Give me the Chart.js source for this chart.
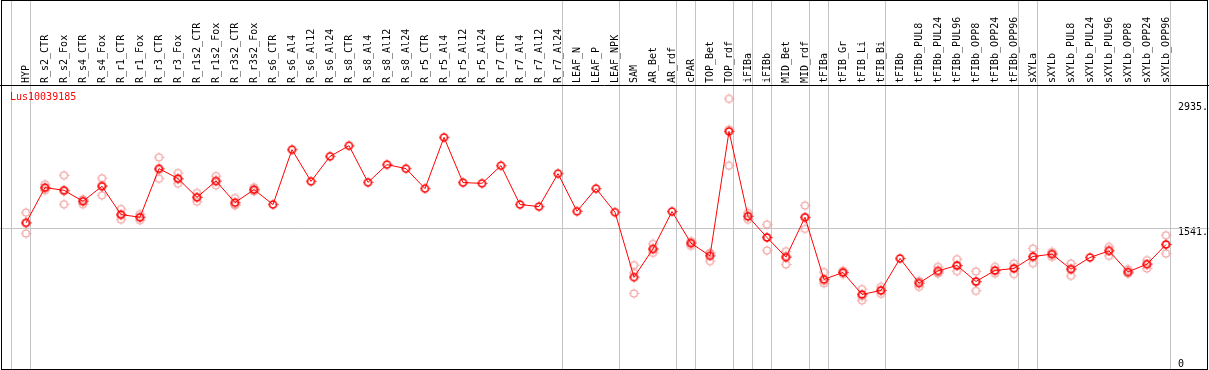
<!DOCTYPE html>
<html>
<head>
<meta charset="utf-8">
<script src="https://cdn.jsdelivr.net/npm/chart.js@4.4.1/dist/chart.umd.min.js"></script>
<style>
  html, body { margin: 0; padding: 0; background: #fff; }
  #wrap { width: 1209px; height: 370px; }
</style>
</head>
<body>
<div id="wrap"><canvas id="chart" width="1209" height="370"></canvas></div>
<script>
// sample names (x categories)
const samples = [
    'HYP', 'R_s2_CTR', 'R_s2_Fox', 'R_s4_CTR', 'R_s4_Fox', 'R_r1_CTR', 'R_r1_Fox', 'R_r3_CTR', 'R_r3_Fox',
    'R_r1s2_CTR', 'R_r1s2_Fox', 'R_r3s2_CTR', 'R_r3s2_Fox', 'R_s6_CTR', 'R_s6_Al4', 'R_s6_Al12', 'R_s6_Al24',
    'R_s8_CTR', 'R_s8_Al4', 'R_s8_Al12', 'R_s8_Al24', 'R_r5_CTR', 'R_r5_Al4', 'R_r5_Al12', 'R_r5_Al24',
    'R_r7_CTR', 'R_r7_Al4', 'R_r7_Al12', 'R_r7_Al24', 'LEAF_N', 'LEAF_P', 'LEAF_NPK', 'SAM', 'AR_Bet', 'AR_rdf',
    'cPAR', 'TOP_Bet', 'TOP_rdf', 'iFIBa', 'iFIBb', 'MID_Bet', 'MID_rdf', 'tFIBa', 'tFIB_Gr', 'tFIB_Li', 'tFIB_Bi',
    'tFIBb', 'tFIBb_PUL8', 'tFIBb_PUL24', 'tFIBb_PUL96', 'tFIBb_OPP8', 'tFIBb_OPP24', 'tFIBb_OPP96',
    'sXYLa', 'sXYLb', 'sXYLb_PUL8', 'sXYLb_PUL24', 'sXYLb_PUL96', 'sXYLb_OPP8', 'sXYLb_OPP24', 'sXYLb_OPP96'
];

// mean expression per sample
const meanValues = [
    1598, 1992, 1962, 1839, 2007, 1691, 1661, 2204, 2093,
    1884, 2066, 1825, 1970, 1803, 2416, 2062, 2341,
    2460, 2051, 2249, 2204, 1981, 2553, 2048, 2040,
    2237, 1803, 1780, 2148, 1728, 1981, 1717, 992, 1308, 1725,
    1371, 1230, 2620, 1672, 1435, 1215, 1661, 967, 1045, 799, 844,
    1201, 925, 1062, 1123, 944, 1067, 1089,
    1223, 1249, 1081, 1212, 1285, 1051, 1137, 1357
];

// replicate measurements (null = none shown)
const rep1 = [
    1713, 2029, 2129, 1862, 2096, 1753, 1695, 2330, 2155,
    1932, 2121, 1876, 1996, null, null, null, null,
    null, null, null, null, null, null, null, null,
    null, null, null, null, null, null, null, 1126, 1363, null,
    1394, 1263, 2984, 1709, 1580, 1282, 1792, 1048, 1065, 858, 884,
    null, 884, 1107, 1193, 1056, 1107, 1145,
    1312, 1274, 1145, null, 1330, 1081, 1182, 1460
];
const rep2 = [
    1479, 1962, 1806, 1806, 1906, 1635, 1628, 2092, 2037,
    1836, 2018, 1795, 1951, null, null, null, null,
    null, null, null, null, null, null, null, null,
    null, null, null, null, null, null, null, 810, 1263, null,
    1341, 1171, 2237, 1635, 1290, 1134, 1531, 922, 1026, 733, 806,
    null, 948, 1033, 1059, 839, 1033, 1026,
    1148, 1218, 1007, null, 1230, 1037, 1090, 1256
];
const rep3 = [
    1602, 1985, 1951, 1850, 2018, 1685, 1660, 2190, 2088,
    1884, 2060, 1805, 1963, null, null, null, null,
    null, null, null, null, null, null, null, null,
    null, null, null, null, null, null, null, 1040, 1298, null,
    1378, 1256, 2640, 1672, 1435, 1229, 1660, 948, 1045, 780, 843,
    null, 943, 1046, 1117, 937, 1061, 1096,
    1209, 1255, 1091, null, 1295, 1035, 1139, 1355
];

const geneId = 'Lus10039185';
const yTicks = [0, 1541, 2935];
const refLine = 1541;
// last sample index of each group (-1 = before the first)
const groupEnds = [-1, 0, 28, 31, 34, 35, 37, 38, 39, 41, 42, 45, 52, 53, 60];

const FONT = '"DejaVu Sans Mono", monospace';
const GRID = '#c4c4c4';

function makeMarker(color, lw) {
    const c = document.createElement('canvas');
    c.width = 11; c.height = 11;
    const g = c.getContext('2d');
    g.strokeStyle = color;
    g.lineWidth = lw;
    g.beginPath();
    g.arc(5.5, 5.5, 3.5, 0, Math.PI * 2);
    g.stroke();
    g.lineWidth = 1;
    g.beginPath();
    g.moveTo(5.5, 0.5); g.lineTo(5.5, 1.8);
    g.moveTo(5.5, 9.2); g.lineTo(5.5, 10.5);
    g.moveTo(0.5, 5.5); g.lineTo(1.8, 5.5);
    g.moveTo(9.2, 5.5); g.lineTo(10.5, 5.5);
    g.stroke();
    return c;
}

const meanMarker = makeMarker('#ff0000', 1.7);
const repMarker = makeMarker('#f09a9a', 1.2);

const framePlugin = {
    id: 'frame',
    beforeDatasetsDraw(chart) {
        const { ctx } = chart;
        const x = chart.scales.x, y = chart.scales.y;
        ctx.save();
        ctx.strokeStyle = GRID;
        ctx.lineWidth = 1;
        ctx.beginPath();
        groupEnds.forEach(i => {
            const px = Math.round(x.getPixelForValue(i) + 4) + 0.5;
            ctx.moveTo(px, 0);
            ctx.lineTo(px, 370);
        });
        const py = Math.round(y.getPixelForValue(refLine)) + 0.5;
        ctx.moveTo(0, py);
        ctx.lineTo(1209, py);
        ctx.stroke();
        ctx.restore();
    },
    afterDraw(chart) {
        const { ctx } = chart;
        ctx.save();
        ctx.strokeStyle = '#000';
        ctx.lineWidth = 1;
        ctx.strokeRect(1.5, 0.5, 1206, 369);
        ctx.beginPath();
        ctx.moveTo(0, 85.5);
        ctx.lineTo(1209, 85.5);
        ctx.stroke();
        ctx.fillStyle = '#ff0000';
        ctx.font = '10px ' + FONT;
        ctx.textBaseline = 'middle';
        ctx.fillText(geneId, 10, 97);
        ctx.restore();
    }
};

const repSet = (data) => ({
    data: data,
    showLine: false,
    pointStyle: repMarker,
    pointRadius: 5,
    borderColor: '#f09a9a',
    backgroundColor: 'transparent'
});

function noPad(s) {
    s.paddingTop = 0;
    s.paddingBottom = 0;
    s.paddingLeft = 0;
    s.paddingRight = 0;
}

new Chart(document.getElementById('chart'), {
    type: 'line',
    data: {
        labels: samples,
        datasets: [
            {
                data: meanValues,
                borderColor: '#ff0000',
                borderWidth: 1,
                tension: 0,
                pointStyle: meanMarker,
                pointRadius: 5,
                backgroundColor: 'transparent'
            },
            repSet(rep1),
            repSet(rep2),
            repSet(rep3)
        ]
    },
    options: {
        responsive: false,
        animation: false,
        events: [],
        devicePixelRatio: 1,
        layout: { autoPadding: false, padding: { left: 16.5, right: 0, top: 0, bottom: 1 } },
        plugins: { legend: { display: false }, tooltip: { enabled: false }, title: { display: false } },
        scales: {
            x: {
                type: 'category',
                position: 'top',
                offset: true,
                grid: { display: false, drawTicks: false },
                border: { display: false },
                ticks: {
                    autoSkip: false,
                    minRotation: 90,
                    maxRotation: 90,
                    padding: 2,
                    labelOffset: 12,
                    color: '#000',
                    font: { family: FONT, size: 10 }
                },
                afterFit(s) { s.height = 85; noPad(s); }
            },
            y: {
                type: 'linear',
                position: 'right',
                min: -33.5,
                max: 3138,
                grid: { display: false, drawTicks: false },
                border: { display: false },
                afterBuildTicks(s) { s.ticks = yTicks.map(v => ({ value: v })); },
                ticks: {
                    padding: 2.5,
                    labelOffset: 4,
                    color: '#000',
                    font: { family: FONT, size: 10, lineHeight: 1.2 },
                    callback: v => v === 0 ? ['0', ''] : v + '.'
                },
                afterFit(s) { s.width = 33.5; noPad(s); }
            }
        }
    },
    plugins: [framePlugin]
});
</script>
</body>
</html>
